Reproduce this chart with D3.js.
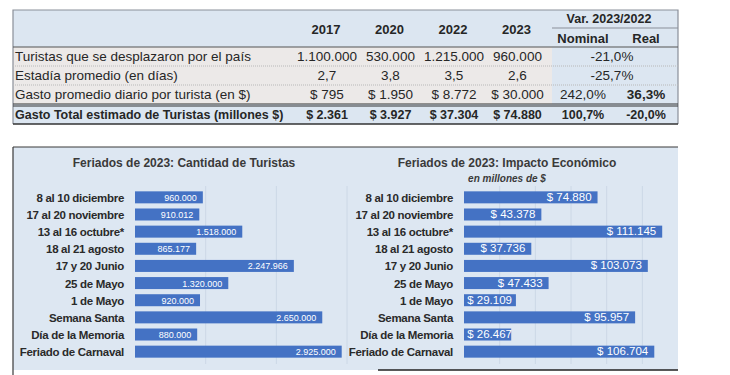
<!DOCTYPE html>
<html>
<head>
<meta charset="utf-8">
<script src="https://cdn.jsdelivr.net/npm/d3@7"></script>
<style>
  body { margin: 0; background: #fff; }
  svg { display: block; }
  .tbl { font-family: "Liberation Sans", sans-serif; fill: #262626; }
  .chart { font-family: "Liberation Sans", sans-serif; }
</style>
</head>
<body>
<svg id="chart" width="730" height="375"></svg>
<script>
// table data
const years = ["2017", "2020", "2022", "2023"];
const rowLabels = [
  "Turistas que se desplazaron por el país",
  "Estadía promedio (en días)",
  "Gasto promedio diario por turista (en $)",
  "Gasto Total estimado de Turistas (millones $)"
];
const turistas = [1100000, 530000, 1215000, 960000];
const estadia = [2.7, 3.8, 3.5, 2.6];
const gastoDiario = [795, 1950, 8772, 30000];
const gastoTotal = [2361, 3927, 37304, 74880];
const varNominal = [-21.0, -25.7, 242.0, 100.7];
const varReal = [null, null, 36.3, -20.0]; // null = merged cell

// chart data
const feriados = ["8 al 10 diciembre", "17 al 20 noviembre", "13 al 16 octubre*", "18 al 21 agosto",
  "17 y 20 Junio", "25 de Mayo", "1 de Mayo", "Semana Santa", "Día de la Memoria", "Feriado de Carnaval"];
const turistasFeriado = [960000, 910012, 1518000, 865177, 2247966, 1320000, 920000, 2650000, 880000, 2925000];
const impacto = [74880, 43378, 111145, 37736, 103073, 47433, 29109, 95957, 26467, 106704];

const loc = d3.formatLocale({ decimal: ",", thousands: ".", grouping: [3], currency: ["$ ", ""], minus: "-" });
const fInt = loc.format(",d");
const fDec = loc.format(".1f");
const fPct = v => loc.format(".1f")(v) + "%";
const fCur = v => "$ " + fInt(v);

const svg = d3.select("#chart");
const blue = "#dce6f1";
const gray = "#ece9e8";

// ---------- table ----------
const colX = [13, 298, 360, 425, 487, 552, 615, 678];
const rowY = [10, 47, 66, 85, 104, 124];
const t = svg.append("g").attr("class", "tbl");

t.append("rect").attr("x", 13).attr("y", rowY[0]).attr("width", 665).attr("height", rowY[1] - rowY[0]).attr("fill", blue);
t.append("rect").attr("x", 13).attr("y", rowY[1]).attr("width", colX[5] - 13).attr("height", rowY[4] - rowY[1]).attr("fill", gray);
t.append("rect").attr("x", colX[5]).attr("y", rowY[1]).attr("width", 678 - colX[5]).attr("height", rowY[4] - rowY[1]).attr("fill", blue);
t.append("rect").attr("x", 13).attr("y", rowY[4]).attr("width", 665).attr("height", rowY[5] - rowY[4]).attr("fill", blue);

// borders
t.append("path").attr("d", `M13,${rowY[5]}V${rowY[0]}H678V${rowY[5]}`).attr("fill", "none").attr("stroke", "#8a8f99").attr("stroke-width", 1.2);
t.append("line").attr("x1", 13).attr("x2", 678).attr("y1", rowY[1]).attr("y2", rowY[1]).attr("stroke", "#555").attr("stroke-width", 1.2);
[rowY[2], rowY[3]].forEach(y => t.append("line").attr("x1", 13).attr("x2", 678).attr("y1", y).attr("y2", y)
  .attr("stroke", "#b8b8b8").attr("stroke-dasharray", "1,1"));
t.append("line").attr("x1", 13).attr("x2", 678).attr("y1", rowY[4]).attr("y2", rowY[4]).attr("stroke", "#333").attr("stroke-width", 1);
t.append("line").attr("x1", 13).attr("x2", 678).attr("y1", rowY[4] + 2).attr("y2", rowY[4] + 2).attr("stroke", "#333").attr("stroke-width", 1);
t.append("line").attr("x1", 13).attr("x2", 678).attr("y1", rowY[5]).attr("y2", rowY[5]).attr("stroke", "#333").attr("stroke-width", 1.5);
t.append("line").attr("x1", colX[5]).attr("x2", 678).attr("y1", 28).attr("y2", 28).attr("stroke", "#8a8f99");

const cx = i => (colX[i] + colX[i + 1]) / 2;
const cy = i => (rowY[i] + rowY[i + 1]) / 2 + 4.5;

years.forEach((y, i) => t.append("text").attr("x", cx(i + 1) - 3).attr("y", 34).attr("text-anchor", "middle")
  .attr("font-size", 13).attr("font-weight", "bold").text(y));
t.append("text").attr("x", 609).attr("y", 23).attr("text-anchor", "middle").attr("font-size", 12.5).attr("font-weight", "bold").text("Var. 2023/2022");
t.append("text").attr("x", 583).attr("y", 43).attr("text-anchor", "middle").attr("font-size", 13).attr("font-weight", "bold").text("Nominal");
t.append("text").attr("x", 646).attr("y", 43).attr("text-anchor", "middle").attr("font-size", 13).attr("font-weight", "bold").text("Real");

const rows = [
  { vals: turistas.map(fInt), bold: false },
  { vals: estadia.map(fDec), bold: false },
  { vals: gastoDiario.map(fCur), bold: false },
  { vals: gastoTotal.map(fCur), bold: true }
];
rows.forEach((r, ri) => {
  const fw = r.bold ? "bold" : "normal";
  const fs = r.bold ? 12.5 : 13.5;
  t.append("text").attr("x", 15).attr("y", cy(ri + 1)).attr("font-size", fs).attr("font-weight", fw).text(rowLabels[ri]);
  r.vals.forEach((v, i) => t.append("text").attr("x", cx(i + 1) - 2).attr("y", cy(ri + 1)).attr("text-anchor", "middle")
    .attr("font-size", fs).attr("font-weight", fw).text(v));
  if (varReal[ri] === null) {
    t.append("text").attr("x", 612).attr("y", cy(ri + 1)).attr("text-anchor", "middle").attr("font-size", fs).text(fPct(varNominal[ri]));
  } else {
    t.append("text").attr("x", 583).attr("y", cy(ri + 1)).attr("text-anchor", "middle").attr("font-size", fs).attr("font-weight", fw).text(fPct(varNominal[ri]));
    t.append("text").attr("x", 646).attr("y", cy(ri + 1)).attr("text-anchor", "middle").attr("font-size", fs).attr("font-weight", "bold").text(fPct(varReal[ri]));
  }
});

// ---------- charts ----------
const panel = svg.append("g").attr("class", "chart");
panel.append("rect").attr("x", 13).attr("y", 147).attr("width", 665).attr("height", 223).attr("fill", "#dde7f2");
panel.append("line").attr("x1", 13).attr("x2", 678).attr("y1", 147).attr("y2", 147).attr("stroke", "#3a3a3a").attr("stroke-width", 1.2);
panel.append("line").attr("x1", 13).attr("x2", 13).attr("y1", 147).attr("y2", 375).attr("stroke", "#3a3a3a").attr("stroke-width", 1.2);
panel.append("line").attr("x1", 378).attr("x2", 678).attr("y1", 370).attr("y2", 370).attr("stroke", "#222").attr("stroke-width", 1.5);

const y = d3.scaleBand().domain(feriados).range([186.2, 362.8]).padding(0.3);

function barChart(opts) {
  const g = panel.append("g");
  const x = d3.scaleLinear().domain(opts.domain).range(opts.range);
  g.selectAll(".grid").data(opts.ticks).enter().append("line")
    .attr("x1", d => x(d)).attr("x2", d => x(d)).attr("y1", 186).attr("y2", 364)
    .attr("stroke", "#ccd8e6").attr("stroke-width", 1);
  g.append("text").attr("x", opts.titleX).attr("y", 167).attr("text-anchor", "middle")
    .attr("font-size", 12).attr("font-weight", "bold").attr("fill", "#3a3a3a").text(opts.title);
  if (opts.subtitle) {
    g.append("text").attr("x", opts.titleX).attr("y", 182).attr("text-anchor", "middle")
      .attr("font-size", 10).attr("font-style", "italic").attr("font-weight", "bold").attr("fill", "#3a3a3a").text(opts.subtitle);
  }
  g.selectAll(".lab").data(feriados).enter().append("text")
    .attr("x", opts.range[0] - 11).attr("y", d => y(d) + y.bandwidth() / 2 + 4.5)
    .attr("text-anchor", "end").attr("font-size", 11.5).attr("letter-spacing", -0.3)
    .attr("font-weight", "bold").attr("fill", "#2a2a2a").text(d => d);
  g.selectAll(".bar").data(opts.values).enter().append("rect")
    .attr("x", x(0)).attr("y", (d, i) => y(feriados[i])).attr("width", d => x(d) - x(0)).attr("height", y.bandwidth())
    .attr("fill", "#4472c4");
  g.selectAll(".val").data(opts.values).enter().append("text")
    .attr("x", d => Math.max(x(d) - 6, x(0) + opts.minLabel)).attr("y", (d, i) => y(feriados[i]) + y.bandwidth() / 2 + 3.5)
    .attr("text-anchor", "end").attr("font-size", opts.valSize).attr("fill", "#fff").text(opts.fmt);
}

barChart({
  domain: [0, 3000000], range: [135, 347], ticks: [1000000, 2000000, 3000000],
  title: "Feriados de 2023: Cantidad de Turistas", titleX: 184,
  values: turistasFeriado, fmt: fInt, valSize: 9, minLabel: 45
});
barChart({
  domain: [0, 120000], range: [464, 678], ticks: [20000, 40000, 60000, 80000, 100000],
  title: "Feriados de 2023: Impacto Económico", titleX: 507, subtitle: "en millones de $",
  values: impacto, fmt: fCur, valSize: 11.5, minLabel: 48
});
</script>
</body>
</html>
